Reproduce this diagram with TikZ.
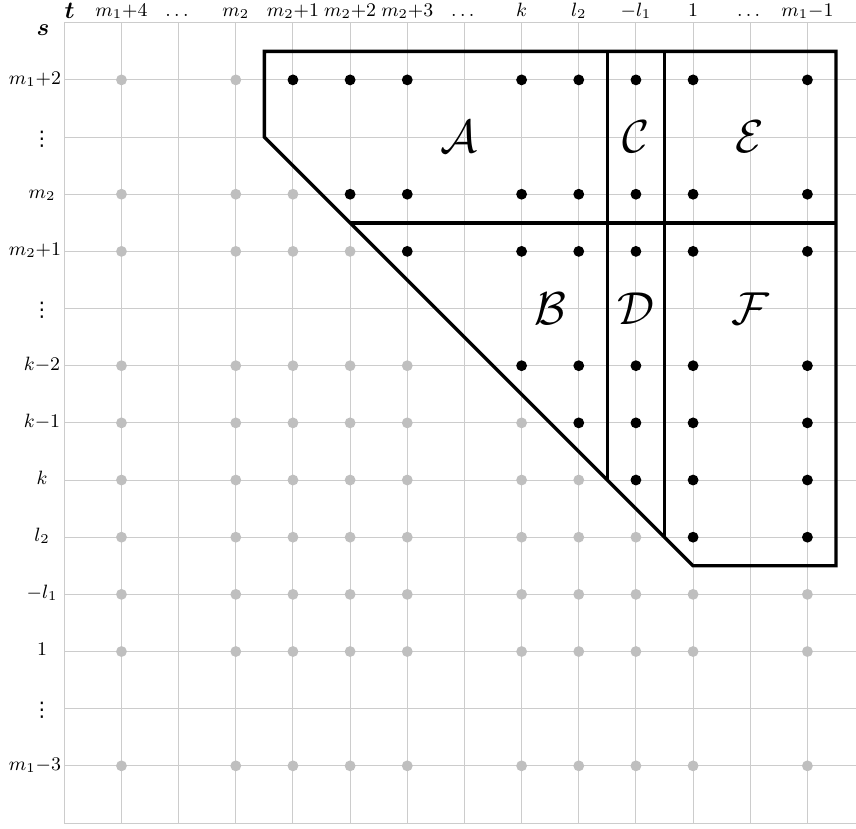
\RequirePackage{fix-cm}
\documentclass[tikz,border=0pt]{standalone}
\usepackage{amsmath}
\usepackage{fontspec}
\newfontfamily\dejavu{DejaVu Sans}
\begin{document}
\begin{tikzpicture}[x=1cm,y=1cm,
  gridline/.style={draw=black!20,line width=0.5pt},
  greydot/.style={fill=black!25},
  blackdot/.style={fill=black},
  region/.style={draw=black,line width=1.7pt},
  collab/.style={font=\fontsize{9.6}{11}\selectfont,anchor=base,inner sep=0pt},
  rowlab/.style={font=\fontsize{9.6}{11}\selectfont,anchor=mid,inner sep=0pt},
  rowdots/.style={font=\dejavu\fontsize{10}{12}\selectfont,anchor=center,inner sep=0pt},
  reglab/.style={font=\fontsize{23}{28}\selectfont,inner sep=0pt}]
\useasboundingbox (-1.125,-0.0875) rectangle (13.85,14.398);
% grid
\foreach \i in {0,...,13} {
  \draw[gridline] (\i,0) -- (\i,14);
}
\foreach \j in {0,...,14} {
  \draw[gridline] (0,\j) -- (13.85,\j);
}
% dots
\foreach \r/\t in {13/4,11/5,10/6,8/8,7/9,6/10,5/11,4/99,3/99,1/99} {
  \foreach \c in {1,3,4,5,6,8,9,10,11,13} {
    \ifnum\c<\t
      \fill[greydot] (\c,\r) circle (2.7pt);
    \else
      \fill[blackdot] (\c,\r) circle (2.7pt);
    \fi
  }
}
% outlines
\draw[region] (3.5,13.5) -- (13.5,13.5) -- (13.5,4.5) -- (11,4.5) -- (3.5,12) -- cycle;
\draw[region] (5,10.5) -- (13.5,10.5);
\draw[region] (9.5,13.5) -- (9.5,6);
\draw[region] (10.5,13.5) -- (10.5,5);
% region labels
\node[reglab] (lA) at (6.9,12.0) {$\mathcal{A}$};
\node[reglab] (lC) at (10.0,12.0) {$\mathcal{C}$};
\node[reglab] (lE) at (12.0,12.0) {$\mathcal{E}$};
\node[reglab] (lB) at (8.5,9.0) {$\mathcal{B}$};
\node[reglab] (lD) at (10.0,9.0) {$\mathcal{D}$};
\node[reglab] (lF) at (12.0,9.0) {$\mathcal{F}$};
% axis names
\node[font=\large,anchor=base,inner sep=0pt] (tname) at (0.094,14.078) {$\boldsymbol{t}$};
\node[font=\large,anchor=base,inner sep=0pt] (sname) at (-0.373,13.768) {$\boldsymbol{s}$};
% column labels
\node[collab] (c1) at (1,14.106) {$m_1{+}4$};
\node[collab] (c2) at (2,14.106) {$\dots$};
\node[collab] (c3) at (3,14.106) {$m_2$};
\node[collab] (c4) at (4,14.106) {$m_2{+}1$};
\node[collab] (c5) at (5,14.106) {$m_2{+}2$};
\node[collab] (c6) at (6,14.106) {$m_2{+}3$};
\node[collab] (c7) at (7,14.106) {$\dots$};
\node[collab] (c8) at (8,14.106) {$k$};
\node[collab] (c9) at (9,14.106) {$l_2$};
\node[collab] (c10) at (10,14.106) {$-l_1$};
\node[collab] (c11) at (11,14.106) {$1$};
\node[collab] (c12) at (12,14.106) {$\dots$};
\node[collab] (c13) at (13,14.106) {$m_1{-}1$};
% row labels
\node[rowlab] (r13) at (-0.513,13) {$m_1{+}2$};
\node[rowdots] (r12) at (-0.39,11.97) {⋮};
\node[rowlab] (r11) at (-0.39,11) {$m_2$};
\node[rowlab] (r10) at (-0.513,10) {$m_2{+}1$};
\node[rowdots] (r9) at (-0.39,8.97) {⋮};
\node[rowlab] (r8) at (-0.39,8) {$k{-}2$};
\node[rowlab] (r7) at (-0.39,7) {$k{-}1$};
\node[rowlab] (r6) at (-0.39,6) {$k$};
\node[rowlab] (r5) at (-0.39,5) {$l_2$};
\node[rowlab] (r4) at (-0.39,4) {$-l_1$};
\node[rowlab] (r3) at (-0.39,3) {$1$};
\node[rowdots] (r2) at (-0.39,1.97) {⋮};
\node[rowlab] (r1) at (-0.513,1) {$m_1{-}3$};
\end{tikzpicture}
\end{document}
